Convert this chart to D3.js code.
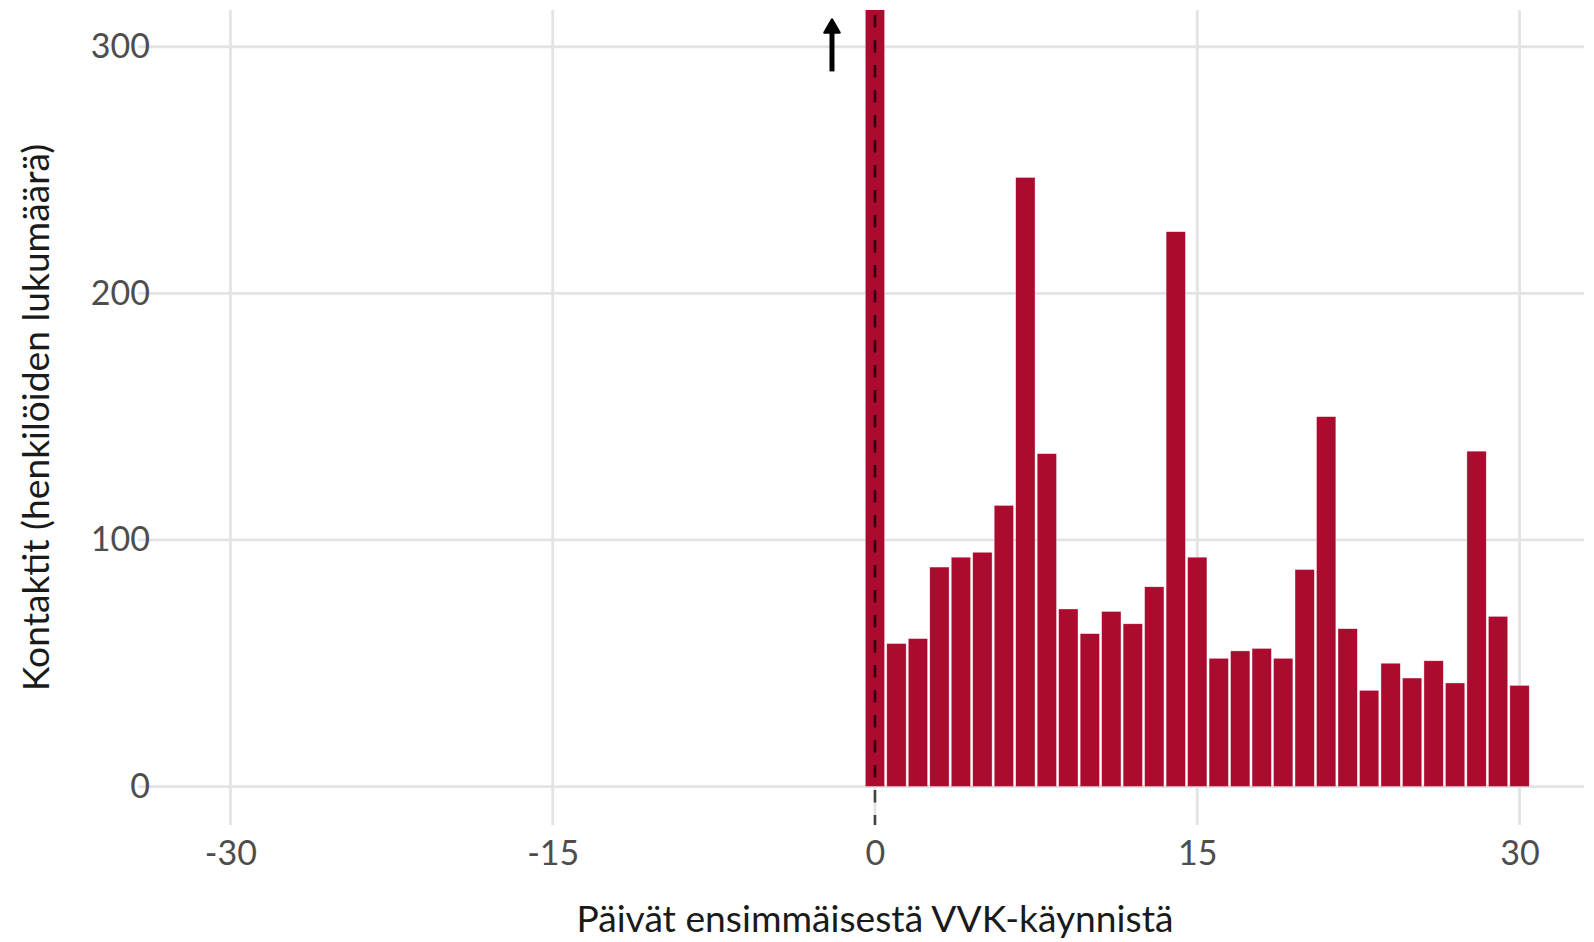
<!DOCTYPE html>
<html>
<head>
<meta charset="utf-8">
<script src="https://cdn.jsdelivr.net/npm/d3@7"></script>
<style>
  html, body { margin: 0; padding: 0; background: #fff; }
  svg { display: block; font-family: Lato, "Open Sans", sans-serif; }
</style>
</head>
<body>
<svg id="chart" width="1594" height="942"></svg>
<script>
// ---- data ----
const days = [0,1,2,3,4,5,6,7,8,9,10,11,12,13,14,15,16,17,18,19,20,21,22,23,24,25,26,27,28,29,30];
// Day 0 value exceeds the plotted range (clipped at the top of the panel)
const contacts = [1000,58,60,89,93,95,114,247,135,72,62,71,66,81,225,93,52,55,56,52,88,150,64,39,50,44,51,42,136,69,41];
const xTicks = [-30,-15,0,15,30];
const xTickLabels = ["-30","-15","0","15","30"];
const yTicks = [0,100,200,300];
const yTickLabels = ["0","100","200","300"];
const xTitle = "Päivät ensimmäisestä VVK-käynnistä";
const yTitle = "Kontaktit (henkilöiden lukumäärä)";
const arrowX = -2, arrowFrom = 290, arrowTo = 311;
const barWidthDays = 0.9;

// ---- layout ----
const svg = d3.select("#chart");
const panel = {left: 138, right: 1584, top: 10, bottom: 825};
const x = d3.scaleLinear().domain([-34.3, 33.0]).range([panel.left, panel.right]);
const y = d3.scaleLinear().domain([-15.6, 314.9]).range([panel.bottom, panel.top]);

const gridColor = "#E3E3E3";

// gridlines
svg.append("g").selectAll("line.h").data(yTicks).join("line")
  .attr("x1", panel.left).attr("x2", panel.right)
  .attr("y1", d => y(d)).attr("y2", d => y(d))
  .attr("stroke", gridColor).attr("stroke-width", 2.8);
svg.append("g").selectAll("line.v").data(xTicks).join("line")
  .attr("y1", panel.top).attr("y2", panel.bottom)
  .attr("x1", d => x(d)).attr("x2", d => x(d))
  .attr("stroke", gridColor).attr("stroke-width", 2.8);

// clip
svg.append("clipPath").attr("id", "clip").append("rect")
  .attr("x", panel.left).attr("y", panel.top)
  .attr("width", panel.right - panel.left).attr("height", panel.bottom - panel.top);

const bw = x(barWidthDays) - x(0);
svg.append("g").attr("clip-path", "url(#clip)")
  .selectAll("rect").data(days.map((d, i) => ({day: d, v: contacts[i]}))).join("rect")
  .attr("x", d => x(d.day) - bw / 2)
  .attr("width", bw)
  .attr("y", d => y(d.v))
  .attr("height", d => y(0) - y(d.v))
  .attr("fill", "#AB0B2E")
  .attr("stroke", "#fff").attr("stroke-opacity", 0.6).attr("stroke-width", 0.6);

// dashed vertical line at 0
svg.append("line")
  .attr("x1", x(0)).attr("x2", x(0))
  .attr("y1", panel.top).attr("y2", panel.bottom)
  .attr("stroke", "#000").attr("stroke-opacity", 0.7)
  .attr("stroke-width", 2.6)
  .attr("stroke-dasharray", "12.5,12.5")
  .attr("stroke-dashoffset", 20);

// arrow
const ax = x(arrowX), ay1 = y(arrowFrom), ay2 = y(arrowTo);
const headLen = 13, headHalf = 7.5;
svg.append("line")
  .attr("x1", ax).attr("x2", ax)
  .attr("y1", ay1).attr("y2", ay2 + headLen - 2)
  .attr("stroke", "#000").attr("stroke-width", 5);
svg.append("path")
  .attr("d", `M${ax},${ay2} L${ax - headHalf},${ay2 + headLen} L${ax + headHalf},${ay2 + headLen} Z`)
  .attr("fill", "#000").attr("stroke", "#000").attr("stroke-width", 2.5)
  .attr("stroke-linejoin", "round");

// axis tick labels
const axisX = d3.axisBottom(x).tickValues(xTicks).tickFormat((d, i) => xTickLabels[i]).tickSize(0).tickPadding(0);
const gx = svg.append("g").attr("transform", `translate(0,${panel.bottom + 16})`).call(axisX);
gx.select(".domain").remove();
gx.selectAll("text").attr("font-family", "Lato").attr("font-size", 34).attr("fill", "#4D4D4D")
  .attr("dy", "0.71em");

const axisY = d3.axisLeft(y).tickValues(yTicks).tickFormat((d, i) => yTickLabels[i]).tickSize(0).tickPadding(0);
const gy = svg.append("g").attr("transform", `translate(${panel.left + 12},0)`).call(axisY);
gy.select(".domain").remove();
gy.selectAll("text").attr("font-family", "Lato").attr("font-size", 34).attr("fill", "#4D4D4D");

// axis titles
svg.append("text")
  .attr("x", x(0)).attr("y", 932)
  .attr("text-anchor", "middle")
  .attr("font-family", "Lato").attr("font-size", 37.2).attr("fill", "#1A1A1A")
  .text(xTitle);
svg.append("text")
  .attr("transform", `translate(49,${(panel.top + panel.bottom) / 2}) rotate(-90)`)
  .attr("text-anchor", "middle")
  .attr("font-family", "Lato").attr("font-size", 37.2).attr("fill", "#1A1A1A")
  .text(yTitle);
</script>
</body>
</html>
